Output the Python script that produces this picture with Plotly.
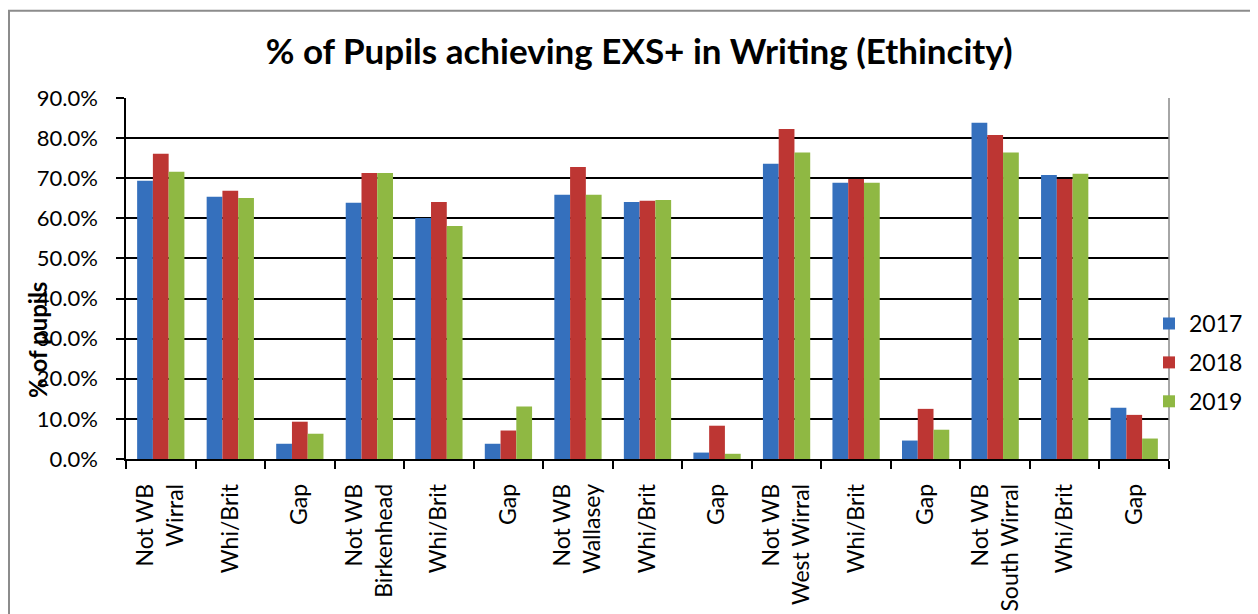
import plotly.graph_objects as go

# categories along the x axis
categories = ["Not WB<br>Wirral", "Whi/Brit", "Gap",
              "Not WB<br>Birkenhead", "Whi/Brit", "Gap",
              "Not WB<br>Wallasey", "Whi/Brit", "Gap",
              "Not WB<br>West Wirral", "Whi/Brit", "Gap",
              "Not WB<br>South Wirral", "Whi/Brit", "Gap"]

# % of pupils
y2017 = [69.4, 65.4, 3.8, 63.9, 60.1, 3.8, 65.9, 64.1, 1.6, 73.6, 68.9, 4.6, 83.8, 70.8, 12.8]
y2018 = [76.1, 66.9, 9.3, 71.3, 64.1, 7.1, 72.8, 64.4, 8.3, 82.3, 69.8, 12.5, 80.8, 69.8, 11.0]
y2019 = [71.6, 65.1, 6.3, 71.3, 58.1, 13.1, 65.9, 64.6, 1.3, 76.4, 68.9, 7.3, 76.4, 71.1, 5.1]

years = ["2017", "2018", "2019"]
colors = ["#3570BD", "#BD3633", "#8FB843"]

xpos = list(range(len(categories)))
FONT = "Lato, Open Sans, sans-serif"

fig = go.Figure()
for name, vals, col in zip(years, [y2017, y2018, y2019], colors):
    fig.add_trace(go.Bar(x=xpos, y=vals, name=name, marker_color=col,
                         marker_line_width=0, legendgroup=name))

# page body adds ~8px margin, so work in figure coords = screen - 8
OFF = 8
W, H = 1258 - OFF, 614 - OFF
L, T = 126 - OFF, 97.5 - OFF
pw, ph = 1043, 361.8
R = W - L - pw
B = H - T - ph
y0px = T + ph  # pixel row of the x axis (figure coords)


def px_x(x):
    return (x - OFF - L) / pw


def px_y(y):
    return (y0px - (y - OFF)) / ph


fig.update_layout(
    width=W, height=H,
    margin=dict(l=L, r=R, t=T, b=B, autoexpand=False),
    paper_bgcolor="white", plot_bgcolor="white",
    bargap=0.32, bargroupgap=0,
    font=dict(family=FONT, color="black", size=22),
    title=dict(text="<b>% of Pupils achieving EXS+ in Writing (Ethincity)</b>",
               x=0.505, xanchor="center", y=1 - (52 - OFF) / H, yanchor="middle",
               font=dict(size=35, family=FONT)),
    legend=dict(x=px_x(1149), xanchor="left", y=px_y(302), yanchor="top",
                font=dict(size=23), tracegroupgap=6, bgcolor="rgba(0,0,0,0)"),
    showlegend=True,
)

fig.update_xaxes(
    range=[-0.5, len(categories) - 0.5],
    tickvals=xpos, ticktext=categories, tickangle=-90,
    ticks="", showline=True, linecolor="black", linewidth=1.5,
    showgrid=False, zeroline=False, ticklabelstandoff=14,
    minor=dict(tickvals=[i - 0.5 for i in range(len(categories) + 1)],
               ticks="outside", ticklen=8, tickcolor="black", tickwidth=1.5),
    tickfont=dict(size=23),
)

fig.update_yaxes(
    range=[0, 90], dtick=10, tickformat=".1f", ticksuffix="%",
    ticks="outside", ticklen=8, tickcolor="black", tickwidth=1.5,
    showline=True, linecolor="black", linewidth=1.5,
    showgrid=True, gridcolor="black", gridwidth=1.5, zeroline=False,
    ticklabelstandoff=14,
    tickfont=dict(size=22),
)

# y axis title overlapping the tick labels as in the source
fig.add_annotation(text="<b>% of pupils</b>", textangle=-90,
                   xref="paper", yref="paper",
                   x=px_x(38), y=px_y(340),
                   xanchor="center", yanchor="middle", showarrow=False,
                   font=dict(size=24, family=FONT))

# right edge of plot area (grey)
fig.add_shape(type="line", xref="paper", yref="paper", x0=1, x1=1, y0=0, y1=1,
              line=dict(color="#888888", width=1.5))

# outer chart frame
fig.add_shape(type="rect", xref="paper", yref="paper",
              x0=px_x(9), x1=px_x(1270),
              y0=px_y(630), y1=px_y(10),
              line=dict(color="#8c8c8c", width=2), fillcolor="rgba(0,0,0,0)")

fig.write_html("out.html")
